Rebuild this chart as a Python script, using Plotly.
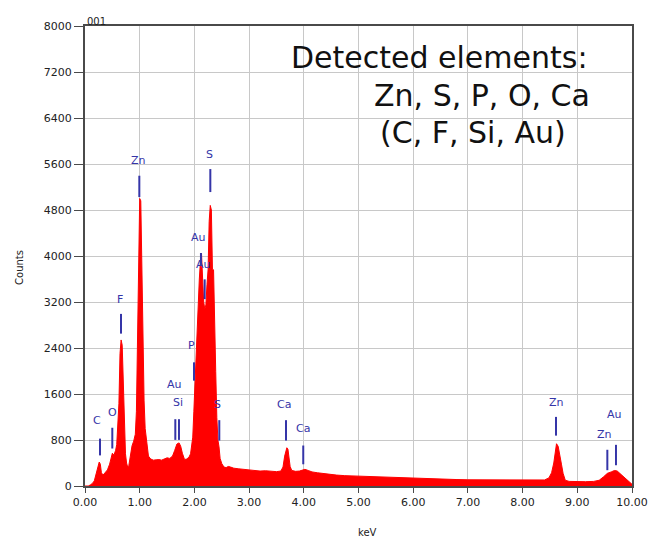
import plotly.graph_objects as go

# ---------------- spectrum data ----------------
kev = [0.00, 0.06, 0.10, 0.14, 0.17, 0.20, 0.23, 0.26, 0.28, 0.30, 0.33, 0.37, 0.41, 0.45, 0.48,
       0.50, 0.53, 0.56, 0.58, 0.60, 0.62, 0.64, 0.66, 0.68, 0.70, 0.72, 0.74, 0.76, 0.78, 0.80,
       0.83, 0.86, 0.89, 0.92, 0.94, 0.96, 0.98, 1.00, 1.02, 1.04, 1.06, 1.08, 1.10, 1.13, 1.16,
       1.20, 1.25, 1.30, 1.35, 1.40, 1.45, 1.50, 1.55, 1.60, 1.64, 1.68, 1.72, 1.75, 1.78, 1.82,
       1.86, 1.90, 1.93, 1.95, 1.97, 1.99, 2.01, 2.03, 2.05, 2.07, 2.09, 2.11, 2.13, 2.15, 2.17,
       2.19, 2.21, 2.23, 2.25, 2.27, 2.29, 2.31, 2.33, 2.35, 2.37, 2.39, 2.41, 2.43, 2.45, 2.47,
       2.50, 2.54, 2.58, 2.62, 2.66, 2.72, 2.80, 2.90, 3.00, 3.10, 3.20, 3.30, 3.40, 3.50, 3.58,
       3.62, 3.65, 3.67, 3.69, 3.71, 3.73, 3.75, 3.78, 3.85, 3.92, 3.98, 4.02, 4.08, 4.15, 4.25,
       4.35, 4.48, 4.60, 4.75, 4.90, 5.00, 5.20, 5.40, 5.60, 5.80, 6.00, 6.20, 6.40, 6.60, 6.80,
       7.00, 7.30, 7.60, 7.90, 8.20, 8.40, 8.48, 8.53, 8.57, 8.60, 8.62, 8.65, 8.68, 8.71, 8.74,
       8.78, 8.85, 9.00, 9.15, 9.30, 9.40, 9.48, 9.55, 9.62, 9.68, 9.73, 9.80, 9.88, 9.95, 10.00]
counts = [0, 0, 20, 50, 90, 200, 330, 417, 380, 230, 190, 230, 280, 380, 520,
          570, 540, 620, 720, 1100, 1430, 2300, 2540, 2450, 1770, 900, 560, 400, 330, 350,
          560, 700, 780, 900, 1300, 2500, 4170, 5000, 4960, 3760, 2330, 1480, 1000, 740, 520,
          470, 450, 455, 460, 450, 470, 490, 480, 520, 620, 730, 750, 690, 570, 460,
          470, 500, 560, 700, 850, 1300, 1770, 2300, 2800, 3300, 3600, 3900, 4050, 3600, 3200,
          3080, 3150, 3500, 3760, 4600, 4880, 4800, 3770, 3760, 2500, 1990, 1190, 800, 680, 480,
          390, 330, 320, 340, 330, 310, 300, 290, 285, 270, 260, 265, 255, 250, 260,
          330, 520, 620, 665, 640, 500, 340, 270, 255, 260, 285, 290, 270, 245, 230,
          215, 205, 190, 180, 175, 170, 165, 160, 145, 135, 130, 128, 125, 120, 112,
          108, 105, 102, 100, 100, 105, 140, 230, 400, 650, 735, 690, 560, 380, 220,
          100, 80, 75, 75, 80, 100, 160, 220, 245, 270, 260, 200, 130, 60, 30]

# ---------------- peak identification markers ----------------
peak_labels = ["C", "O", "F", "Zn", "Au", "Si", "P", "Au", "Au", "S", "S", "Ca", "Ca", "Zn", "Zn", "Au"]
label_kev   = [0.22, 0.506, 0.646, 0.981, 1.627, 1.706, 1.95, 2.084, 2.163, 2.285, 2.426, 3.644, 3.98, 8.611, 9.506, 9.689]
label_cnt   = [1133, 1276, 3250, 5666, 1763, 1448, 2438, 4322, 3851, 5769, 1420, 1420, 1001, 1448, 888, 1236]

line_kev    = [0.274, 0.499, 0.658, 0.993, 1.651, 1.718, 1.993, 2.12, 2.188, 2.291, 2.455, 3.675, 3.99, 8.611, 9.549, 9.707]
line_top    = [824, 1013, 2993, 5396, 1162, 1162, 2151, 4052, 3594, 5512, 1145, 1145, 704, 1202, 630, 716]
line_bottom = [532, 652, 2650, 5025, 802, 802, 1832, 3846, 3250, 5112, 790, 790, 378, 876, 275, 361]

x_ticks = [0, 1, 2, 3, 4, 5, 6, 7, 8, 9, 10]
y_ticks = [0, 800, 1600, 2400, 3200, 4000, 4800, 5600, 6400, 7200, 8000]

detected_lines = ["Detected elements:", "Zn, S, P, O, Ca", "(C, F, Si, Au)"]

BLUE = "#3535a8"
FRAME = "#4a4a4a"
GRID = "#c8c8c8"
SMALL = "DejaVu Sans"

fig = go.Figure()
fig.add_trace(go.Scatter(x=kev, y=counts, mode="lines", fill="tozeroy",
                         line=dict(color="#ff0000", width=1), fillcolor="#ff0000",
                         hoverinfo="skip", showlegend=False))

for xk, y0, y1 in zip(line_kev, line_bottom, line_top):
    fig.add_shape(type="line", xref="x", yref="y", x0=xk, x1=xk, y0=y0, y1=y1,
                  line=dict(color=BLUE, width=2))

for lab, xk, yk in zip(peak_labels, label_kev, label_cnt):
    fig.add_annotation(x=xk, y=yk, xref="x", yref="y", text=lab, showarrow=False,
                       font=dict(family=SMALL, size=11, color=BLUE),
                       xanchor="center", yanchor="middle")

# detected elements text block
fig.add_annotation(x=0.924, y=0.931, xref="paper", yref="paper", text=detected_lines[0],
                   showarrow=False, xanchor="right", yanchor="middle",
                   font=dict(family="DejaVu Sans", size=30, color="#111111"))
fig.add_annotation(x=0.927, y=0.850, xref="paper", yref="paper", text=detected_lines[1],
                   showarrow=False, xanchor="right", yanchor="middle",
                   font=dict(family="DejaVu Sans", size=30, color="#111111"))
fig.add_annotation(x=0.710, y=0.768, xref="paper", yref="paper", text=detected_lines[2],
                   showarrow=False, xanchor="center", yanchor="middle",
                   font=dict(family="DejaVu Sans", size=30, color="#111111"))

# small labels
fig.add_annotation(x=0.0, y=1.0, xref="paper", yref="paper", text="001", showarrow=False,
                   xanchor="left", yanchor="bottom", yshift=-3,
                   font=dict(family=SMALL, size=10, color="#222222"))
fig.add_annotation(x=0.517, y=0, xref="paper", yref="paper", text="keV", showarrow=False,
                   xanchor="center", yanchor="middle", yshift=-46,
                   font=dict(family=SMALL, size=10, color="#222222"))
fig.add_annotation(x=0, y=0.474, xref="paper", yref="paper", text="Counts", showarrow=False,
                   xanchor="center", yanchor="middle", xshift=-65, textangle=-90,
                   font=dict(family=SMALL, size=10, color="#222222"))

fig.update_xaxes(range=[0, 10], tickvals=x_ticks, ticktext=["%.2f" % v for v in x_ticks],
                 showgrid=True, gridcolor=GRID, gridwidth=1, zeroline=False,
                 ticks="outside", ticklen=5, tickwidth=1, tickcolor=FRAME,
                 showline=True, mirror=True, linecolor=FRAME, linewidth=2,
                 tickfont=dict(family=SMALL, size=11, color="#222222"))
fig.update_yaxes(range=[0, 8000], tickvals=y_ticks, ticktext=[str(v) for v in y_ticks],
                 showgrid=True, gridcolor=GRID, gridwidth=1, zeroline=False,
                 ticks="outside", ticklen=9, tickwidth=1, tickcolor=FRAME,
                 showline=True, mirror=True, linecolor=FRAME, linewidth=2,
                 tickfont=dict(family=SMALL, size=11, color="#222222"))

# page body has an 8px margin, so the figure is sized/offset to land the plot where the reference has it
fig.update_layout(width=652, height=530, margin=dict(l=77, r=28, t=12, b=52),
                  plot_bgcolor="white", paper_bgcolor="white", showlegend=False)

fig.write_html("out.html")
